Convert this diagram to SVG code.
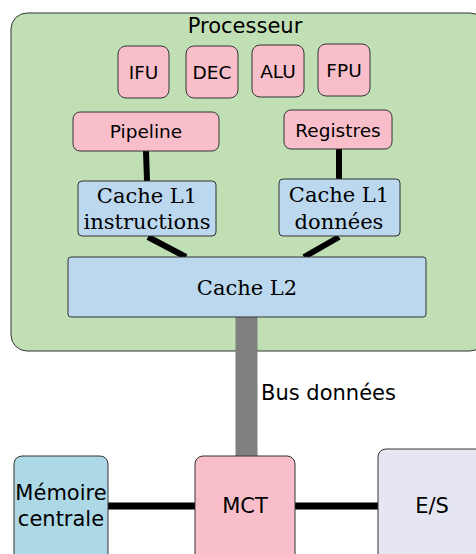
<svg xmlns="http://www.w3.org/2000/svg" width="476" height="554" viewBox="0 0 476 554">
<style>
.box{stroke:#333;stroke-width:1}
.pink{fill:#f8bfcb}
.blue{fill:#bcd8ef}
.s{font-family:"DejaVu Sans",sans-serif;fill:#000;text-anchor:middle}
.r{font-family:"DejaVu Serif",serif;fill:#000;text-anchor:middle;font-size:21px}
.bk{stroke:#000;stroke-width:6;fill:none}
</style>
<rect width="476" height="554" fill="#fff"/>
<g id="processeur">
<rect class="box" x="11" y="13" width="475" height="338" rx="16" fill="#c0dfb4"/>
<text class="s" x="245" y="33" font-size="21">Processeur</text>
</g>
<g id="connectors">
<line class="bk" x1="146" y1="151" x2="147" y2="181"/>
<line class="bk" x1="339" y1="149" x2="339" y2="180"/>
<line class="bk" x1="148" y1="237" x2="186" y2="257"/>
<line class="bk" x1="339" y1="237" x2="304" y2="257"/>
<line stroke="#808080" stroke-width="22" x1="246.5" y1="317" x2="246.5" y2="456"/>
<line stroke="#000" stroke-width="7" x1="108" y1="506" x2="195" y2="506"/>
<line stroke="#000" stroke-width="7" x1="295" y1="506" x2="378" y2="506"/>
<text class="s" x="261" y="400" font-size="21" style="text-anchor:start">Bus données</text>
</g>
<g id="ifu"><rect class="box pink" x="118" y="46" width="51" height="52" rx="8"/><text class="s" x="143.5" y="79" font-size="18.5">IFU</text></g>
<g id="dec"><rect class="box pink" x="186" y="46" width="52" height="52" rx="8"/><text class="s" x="212" y="79" font-size="18.5">DEC</text></g>
<g id="alu"><rect class="box pink" x="252" y="45" width="52" height="52" rx="8"/><text class="s" x="278" y="78" font-size="18.5">ALU</text></g>
<g id="fpu"><rect class="box pink" x="318" y="44" width="52" height="52" rx="8"/><text class="s" x="344" y="77" font-size="18.5">FPU</text></g>
<g id="pipeline"><rect class="box pink" x="73" y="112" width="146" height="39" rx="7"/><text class="s" x="146" y="138" font-size="18.5">Pipeline</text></g>
<g id="registres"><rect class="box pink" x="284" y="110" width="108" height="39" rx="7"/><text class="s" x="338" y="137" font-size="18.5">Registres</text></g>
<g id="l1i"><rect class="box blue" x="78" y="181" width="138" height="55" rx="4"/><text class="r" x="147" y="203">Cache L1</text><text class="r" x="147" y="229">instructions</text></g>
<g id="l1d"><rect class="box blue" x="279" y="179" width="121" height="57" rx="4"/><text class="r" x="339" y="202">Cache L1</text><text class="r" x="339" y="229">données</text></g>
<g id="l2"><rect class="box blue" x="68" y="257" width="358" height="60" rx="3"/><text class="r" x="247" y="295">Cache L2</text></g>
<g id="memoire"><rect class="box" fill="#add8e6" x="14" y="456" width="94" height="110" rx="8"/><text class="s" x="61" y="500" font-size="21">Mémoire</text><text class="s" x="61" y="526" font-size="21">centrale</text></g>
<g id="mct"><rect class="box pink" x="195" y="456" width="100" height="110" rx="8"/><text class="s" x="245" y="513" font-size="21">MCT</text></g>
<g id="es"><rect class="box" fill="#e6e6f2" x="378" y="449" width="110" height="120" rx="8"/><text class="s" x="432" y="513" font-size="21">E/S</text></g>
</svg>
